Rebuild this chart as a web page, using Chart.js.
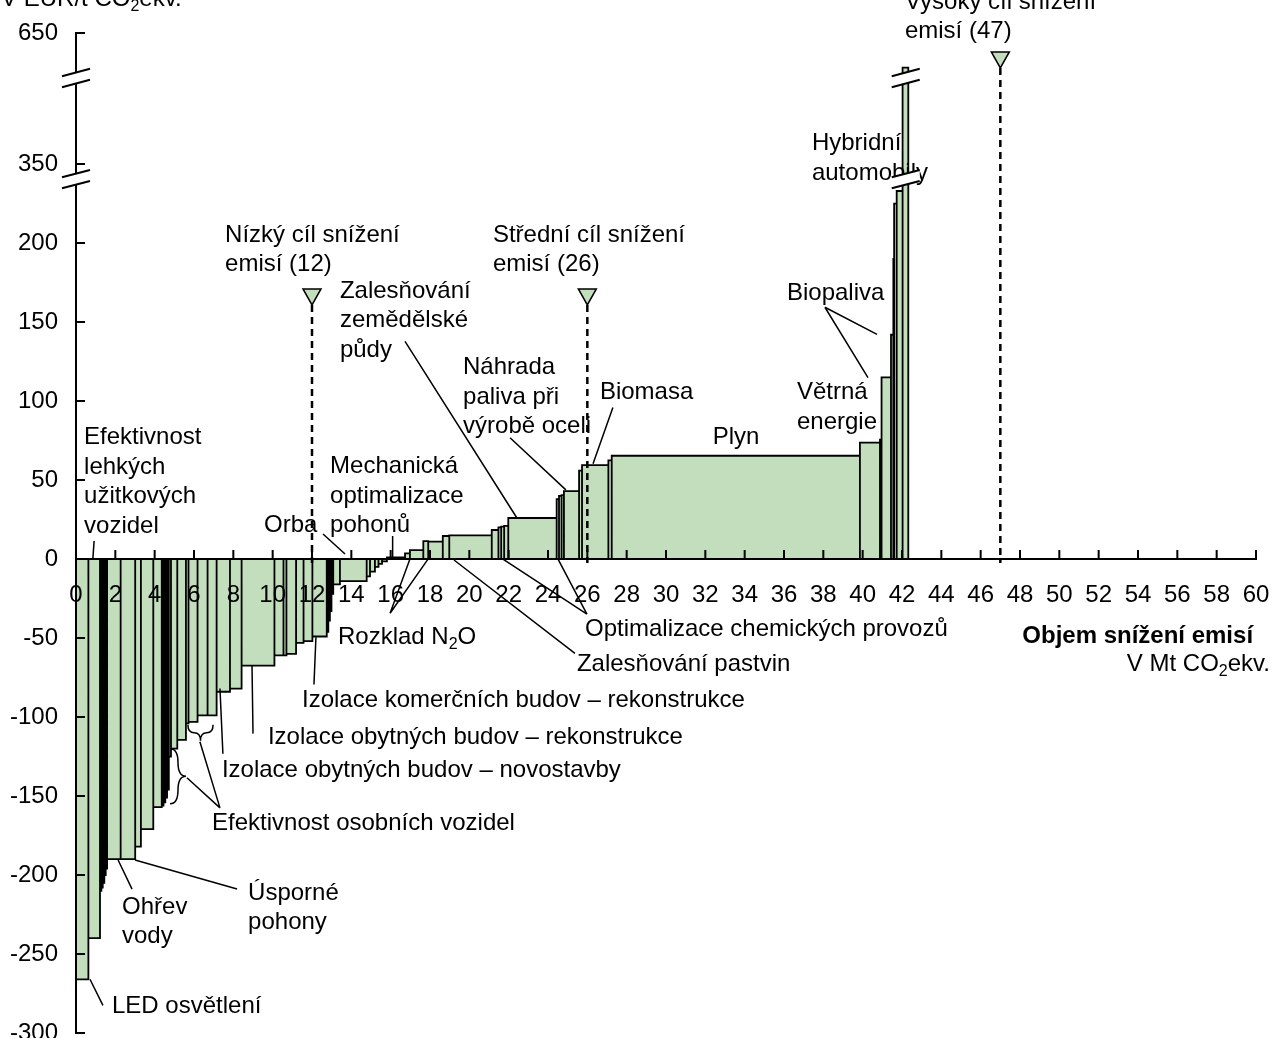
<!DOCTYPE html>
<html>
<head>
<meta charset="utf-8">
<script src="https://cdn.jsdelivr.net/npm/chart.js"></script>
<style>
  body { margin: 0; background: #fff; }
  canvas { display: block; }
</style>
</head>
<body>
<canvas id="myChart" width="1272" height="1038"></canvas>
<script>
// abatement volume of each measure (Mt CO2ekv.), left to right
var widths = [0.63, 0.59, 0.07, 0.07, 0.08, 0.07, 0.07, 0.69, 0.74, 0.29,
              0.63, 0.43, 0.09, 0.09, 0.09, 0.09, 0.11, 0.32, 0.44, 0.13,
              0.46, 0.51, 0.46, 0.68, 0.59, 1.67, 0.46, 0.15, 0.49, 0.38,
              0.45, 0.73, 0.08, 0.08, 0.08, 0.09, 0.34, 1.36, 0.17, 0.25,
              0.18, 0.18, 0.25, 0.92, 0.25, 0.68, 0.25, 0.74, 0.33, 2.16,
              0.34, 0.14, 0.15, 0.21, 2.46, 0.12, 0.13, 0.12, 0.77, 0.15,
              1.34, 0.17, 12.62, 1.02, 0.08, 0.48, 0.12, 0.04, 0.13, 0.30, 0.29];
// abatement cost of each measure (EUR/t CO2ekv.)
var costs = [-266, -240, -210, -208, -205, -200, -196, -190, -190, -182,
             -171, -157, -156, -154, -151, -146, -125, -120, -114.5, -104,
             -103, -99, -99, -84, -82, -67.5, -61, -61, -60, -53,
             -52, -49, -46, -39, -33, -22, -16, -14, -11, -8,
             -5, -3, -1.5, 1, 3.6, 5.7, 11.4, 11, 14.6, 15,
             18.4, 20, 20.5, 21, 26, 38, 40, 40.5, 43, 56,
             59.5, 62.5, 65.4, 73.7, 75.6, 115, 142, 190, 275, 299, 571];

var yTicks = [-300, -250, -200, -150, -100, -50, 0, 50, 100, 150, 200, 350, 650];
var targets = [12, 26, 47];

// broken y axis: real value -> drawn value
var breakReal = [200, 350, 650];
var breakDraw = [200, 250, 333];
function toAxis(v) {
    if (v <= breakReal[0]) return v;
    for (var i = 1; i < breakReal.length; i++) {
        if (v <= breakReal[i] || i == breakReal.length - 1) {
            var t = (v - breakReal[i - 1]) / (breakReal[i] - breakReal[i - 1]);
            return breakDraw[i - 1] + t * (breakDraw[i] - breakDraw[i - 1]);
        }
    }
}
var breaksAt = [240.5, 304.5];   // drawn values where the axis is cut
var breakBarX = 42.19;           // tallest bar is cut there too

// labels (data coords, y in drawn units); "~" toggles subscript
var notes = [
    {x: 42.15, y: 352.4, lines: ['Vysoký cíl snížení', 'emisí (47)']},
    {x: 7.58, y: 205.1, lines: ['Nízký cíl snížení', 'emisí (12)']},
    {x: 21.2, y: 205.1, lines: ['Střední cíl snížení', 'emisí (26)']},
    {x: 13.42, y: 169.5, lines: ['Zalesňování', 'zemědělské', 'půdy']},
    {x: 19.68, y: 121.3, lines: ['Náhrada', 'paliva při', 'výrobě oceli']},
    {x: 26.64, y: 105.4, lines: ['Biomasa']},
    {x: 33.56, y: 76.8, lines: ['Plyn'], align: 'center'},
    {x: 36.66, y: 105.4, lines: ['Větrná', 'energie']},
    {x: 36.15, y: 168.3, lines: ['Biopaliva']},
    {x: 37.42, y: 262.9, lines: ['Hybridní', 'automobily']},
    {x: 0.41, y: 76.8, lines: ['Efektivnost', 'lehkých', 'užitkových', 'vozidel']},
    {x: 9.56, y: 21.6, lines: ['Orba']},
    {x: 12.92, y: 58.4, lines: ['Mechanická', 'optimalizace', 'pohonů']},
    {x: 13.32, y: -49.5, lines: ['Rozklad N~2~O']},
    {x: 25.88, y: -44.4, lines: ['Optimalizace chemických provozů']},
    {x: 59.85, y: -48.9, lines: ['Objem snížení emisí'], align: 'right', bold: true},
    {x: 60.71, y: -66.7, lines: ['V Mt CO~2~ekv.'], align: 'right'},
    {x: 25.47, y: -66.7, lines: ['Zalesňování pastvin']},
    {x: 11.49, y: -89.5, lines: ['Izolace komerčních budov – rekonstrukce']},
    {x: 9.76, y: -113, lines: ['Izolace obytných budov – rekonstrukce']},
    {x: 7.42, y: -134, lines: ['Izolace obytných budov – novostavby']},
    {x: 6.92, y: -167.6, lines: ['Efektivnost osobních vozidel']},
    {x: 8.75, y: -211.4, lines: ['Úsporné', 'pohony']},
    {x: 2.34, y: -220.3, lines: ['Ohřev', 'vody']},
    {x: 1.83, y: -283.2, lines: ['LED osvětlení']},
    {x: -3.81, y: 354, lines: ['V EUR/t CO~2~ekv.']}
];
var leaders = [
    [16.73, 137.8, 22.42, 26.0],
    [22.07, 76.8, 24.91, 43.8],
    [27.30, 95.9, 26.29, 60.3],
    [38.08, 159.4, 40.73, 142.2],
    [38.08, 159.4, 40.27, 114.9],
    [0.92, 11.4, 0.86, 0.6],
    [12.56, 15.9, 13.68, 3.2],
    [16.10, 14.6, 16.10, 1.3],
    [15.97, -34.3, 16.98, 0],
    [15.97, -34.3, 17.90, 0],
    [25.98, -34.9, 21.71, 0],
    [25.98, -34.9, 24.51, 0],
    [25.37, -59.7, 19.22, -0.6],
    [12.20, -49.5, 12.10, -79.4],
    [8.95, -67.3, 9.0, -110.5],
    [7.32, -81.9, 7.47, -123.2],
    [6.30, -115.6, 7.32, -157.5],
    [5.64, -138.4, 7.32, -157.5],
    [2.14, -190.5, 2.85, -208.9],
    [3.0, -190.5, 8.19, -208.9],
    [0.71, -266, 1.37, -282.5]
];
// curly braces: from -> to, bulge on the right of the travel direction
var braces = [
    [5.69, -104.8, 6.97, -104.8],
    [4.78, -154.9, 4.78, -120]
];
var targetTops = [171, 171, 321];

var green = 'rgb(195, 222, 188)';
var fontFamily = '"Liberation Sans", Arial, sans-serif';

// outline of the cost curve: one rectangle per measure
var pts = [];
var x0 = 0;
for (var i = 0; i < widths.length; i++) {
    var h = toAxis(costs[i]);
    var x1 = x0 + widths[i];
    pts.push({x: x0, y: 0}, {x: x0, y: h}, {x: x1, y: h}, {x: x1, y: 0});
    x0 = x1;
}

function richText(ctx, s, x, y, align, bold) {
    var parts = s.split('~');
    var big = (bold ? 'bold ' : '') + '24px ' + fontFamily;
    var small = '16px ' + fontFamily;
    var w = 0;
    parts.forEach(function(p, k) { ctx.font = k % 2 ? small : big; w += ctx.measureText(p).width; });
    var cx = align == 'right' ? x - w : align == 'center' ? x - w / 2 : x;
    ctx.textAlign = 'left';
    ctx.textBaseline = 'middle';
    parts.forEach(function(p, k) {
        ctx.font = k % 2 ? small : big;
        ctx.fillText(p, cx, k % 2 ? y + 7 : y);
        cx += ctx.measureText(p).width;
    });
}

function brace(ctx, ax, ay, bx, by, d) {
    var L = Math.hypot(bx - ax, by - ay);
    var q = Math.min(L / 4, d);
    ctx.save();
    ctx.translate(ax, ay);
    ctx.rotate(Math.atan2(by - ay, bx - ax));
    ctx.beginPath();
    ctx.moveTo(0, 0);
    ctx.quadraticCurveTo(0, d / 2, q, d / 2);
    ctx.lineTo(L / 2 - q, d / 2);
    ctx.quadraticCurveTo(L / 2, d / 2, L / 2, d);
    ctx.quadraticCurveTo(L / 2, d / 2, L / 2 + q, d / 2);
    ctx.lineTo(L - q, d / 2);
    ctx.quadraticCurveTo(L, d / 2, L, 0);
    ctx.stroke();
    ctx.restore();
}

function cut(ctx, px, py) {
    var hw = 14, rise = 3.7, gap = 5.5;
    ctx.fillStyle = '#fff';
    ctx.beginPath();
    ctx.moveTo(px - hw, py - gap + rise);
    ctx.lineTo(px + hw, py - gap - rise);
    ctx.lineTo(px + hw, py + gap - rise);
    ctx.lineTo(px - hw, py + gap + rise);
    ctx.closePath();
    ctx.fill();
    ctx.beginPath();
    ctx.moveTo(px - hw, py - gap + rise); ctx.lineTo(px + hw, py - gap - rise);
    ctx.moveTo(px - hw, py + gap + rise); ctx.lineTo(px + hw, py + gap - rise);
    ctx.stroke();
}

var overlay = {
    id: 'overlay',
    afterDatasetsDraw: function(chart) {
        var ctx = chart.ctx, sx = chart.scales.x, sy = chart.scales.y;
        var y0 = sy.getPixelForValue(0);
        ctx.save();
        ctx.strokeStyle = '#000';
        ctx.lineWidth = 2;
        ctx.beginPath();
        for (var v = 0; v <= 60; v += 2) {
            var px = sx.getPixelForValue(v);
            ctx.moveTo(px, y0 - 9); ctx.lineTo(px, y0);
        }
        yTicks.forEach(function(t) {
            var py = sy.getPixelForValue(toAxis(t));
            ctx.moveTo(sx.left, py); ctx.lineTo(sx.left + 9, py);
        });
        ctx.stroke();
        ctx.restore();
    },
    afterDraw: function(chart) {
        var ctx = chart.ctx, sx = chart.scales.x, sy = chart.scales.y;
        var X = function(v) { return sx.getPixelForValue(v); };
        var Y = function(v) { return sy.getPixelForValue(v); };
        ctx.save();
        ctx.strokeStyle = '#000';
        ctx.fillStyle = '#000';

        // target lines and markers
        targets.forEach(function(t, k) {
            var px = X(t), top = Y(targetTops[k]);
            ctx.lineWidth = 2.5;
            ctx.setLineDash([7, 5]);
            ctx.beginPath();
            ctx.moveTo(px, top + 16); ctx.lineTo(px, Y(-2.5));
            ctx.stroke();
            ctx.setLineDash([]);
            ctx.lineWidth = 1.5;
            ctx.beginPath();
            ctx.moveTo(px - 9, top); ctx.lineTo(px + 9, top); ctx.lineTo(px, top + 16);
            ctx.closePath();
            ctx.fillStyle = green;
            ctx.fill();
            ctx.stroke();
        });

        ctx.lineWidth = 1.5;
        ctx.beginPath();
        leaders.forEach(function(l) {
            ctx.moveTo(X(l[0]), Y(l[1])); ctx.lineTo(X(l[2]), Y(l[3]));
        });
        ctx.stroke();
        braces.forEach(function(b) { brace(ctx, X(b[0]), Y(b[1]), X(b[2]), Y(b[3]), 16); });

        ctx.fillStyle = '#000';
        notes.forEach(function(n) {
            n.lines.forEach(function(s, k) {
                richText(ctx, s, X(n.x), Y(n.y) + k * 29.5, n.align || 'left', n.bold);
            });
        });

        ctx.lineWidth = 2;
        breaksAt.forEach(function(b) {
            cut(ctx, sx.left, Y(b));
            cut(ctx, X(breakBarX), Y(b));
        });
        ctx.restore();
    }
};

Chart.defaults.font.family = fontFamily;
Chart.defaults.font.size = 24;
Chart.defaults.color = '#000';

var ctx = document.getElementById('myChart');
var myChart = new Chart(ctx, {
    type: 'line',
    data: {
        datasets: [{
            data: pts,
            borderColor: '#000',
            borderWidth: 1.8,
            backgroundColor: green,
            fill: 'origin',
            pointRadius: 0,
            tension: 0
        }]
    },
    options: {
        responsive: false,
        animation: false,
        layout: { padding: { top: 33, bottom: 5, left: 0, right: 16 } },
        plugins: {
            legend: { display: false },
            tooltip: { enabled: false }
        },
        scales: {
            x: {
                type: 'linear',
                min: 0,
                max: 60,
                position: { y: 0 },
                grid: { drawOnChartArea: false, drawTicks: false },
                border: { color: '#000', width: 2, z: 1 },
                ticks: { stepSize: 2, padding: 22, z: 1, maxRotation: 0, autoSkip: false },
                afterFit: function(s) { s.paddingLeft = 0; s.paddingRight = 0; }
            },
            y: {
                type: 'linear',
                min: -300,
                max: 333,
                grid: { drawOnChartArea: false, drawTicks: false },
                border: { color: '#000', width: 2, z: 1 },
                afterBuildTicks: function(s) {
                    s.ticks = yTicks.map(function(v) { return {value: toAxis(v)}; });
                },
                ticks: {
                    padding: 18,
                    callback: function(value) {
                        var k = yTicks.map(toAxis).indexOf(value);
                        return k >= 0 ? String(yTicks[k]) : '';
                    }
                },
                afterFit: function(s) { s.width = 76; s.paddingTop = 0; s.paddingBottom = 0; }
            }
        }
    },
    plugins: [overlay]
});
</script>
</body>
</html>
